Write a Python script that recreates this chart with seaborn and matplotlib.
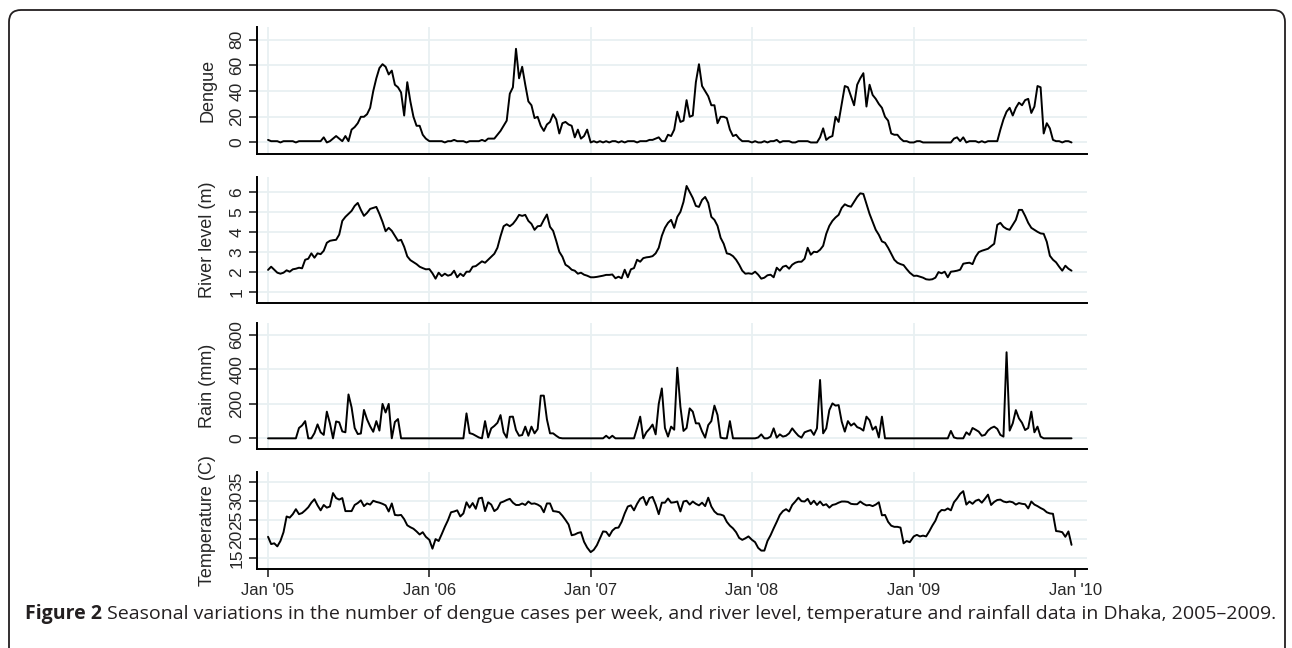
import numpy as np
import pandas as pd
import matplotlib
matplotlib.use("Agg")
import matplotlib.pyplot as plt
import seaborn as sns
from matplotlib.patches import FancyBboxPatch
from matplotlib.transforms import IdentityTransform

# weekly values, one list of 52 weeks per year
years = [2005, 2006, 2007, 2008, 2009]

dengue = {
    2005: [2, 1, 1, 1, 0, 1, 1, 1, 1, 0, 1, 1, 1, 1, 1, 1, 1, 1, 4, 0, 1, 3, 5, 3, 1, 5,
           1, 10, 12, 15, 20, 20, 22, 27, 40, 50, 58, 61, 59, 53, 56, 45, 43, 39, 21, 47,
           32, 20, 13, 13, 6, 3],
    2006: [1, 1, 1, 1, 1, 0, 1, 1, 2, 1, 1, 1, 0, 1, 1, 1, 1, 2, 1, 3, 3, 3, 6, 9, 13, 17,
           38, 43, 73, 50, 59, 45, 32, 29, 19, 20, 13, 9, 14, 16, 22, 18, 7, 15, 16, 14,
           13, 4, 10, 3, 5, 10],
    2007: [0, 1, 0, 1, 0, 1, 0, 1, 1, 0, 1, 0, 1, 1, 1, 0, 1, 1, 1, 2, 2, 3, 4, 1, 1, 6,
           5, 10, 24, 16, 17, 33, 20, 21, 47, 61, 44, 40, 36, 29, 29, 15, 20, 20, 19, 10,
           5, 6, 3, 1, 1, 1],
    2008: [0, 1, 0, 0, 1, 0, 1, 1, 2, 0, 1, 1, 1, 0, 0, 1, 1, 1, 1, 0, 0, 0, 4, 11, 2, 4,
           5, 20, 16, 30, 44, 43, 36, 29, 45, 50, 54, 28, 45, 37, 34, 30, 27, 20, 17, 7,
           6, 6, 3, 1, 1, 0],
    2009: [0, 1, 1, 0, 0, 0, 0, 0, 0, 0, 0, 0, 0, 3, 4, 1, 4, 0, 1, 1, 1, 0, 1, 0, 1, 1,
           1, 1, 10, 18, 24, 27, 21, 27, 31, 29, 33, 34, 23, 28, 44, 43, 7, 15, 11, 2,
           1, 1, 0, 1, 1, 0],
}

river = {
    2005: [2.09, 2.25, 2.1, 1.95, 1.9, 1.95, 2.07, 2.0, 2.12, 2.15, 2.2, 2.17, 2.6, 2.65,
           2.92, 2.7, 2.92, 2.88, 3.05, 3.45, 3.55, 3.58, 3.6, 3.86, 4.55, 4.75, 4.9,
           5.05, 5.3, 5.45, 5.1, 4.8, 4.95, 5.15, 5.2, 5.25, 4.9, 4.5, 4.03, 4.2, 4.05,
           3.8, 3.55, 3.6, 3.25, 2.77, 2.58, 2.48, 2.38, 2.25, 2.18, 2.12],
    2006: [2.13, 1.92, 1.65, 1.95, 1.78, 1.9, 1.8, 1.85, 2.05, 1.72, 1.9, 1.78, 2.0, 2.0,
           2.25, 2.28, 2.4, 2.52, 2.45, 2.6, 2.75, 2.9, 3.2, 3.78, 4.28, 4.38, 4.28, 4.4,
           4.6, 4.85, 4.8, 4.85, 4.55, 4.4, 4.1, 4.28, 4.3, 4.6, 4.87, 4.25, 4.05, 3.55,
           3.0, 2.75, 2.35, 2.25, 2.1, 2.05, 1.9, 1.95, 1.85, 1.8],
    2007: [1.72, 1.72, 1.74, 1.77, 1.8, 1.84, 1.84, 1.86, 1.67, 1.75, 1.67, 2.1, 1.72,
           2.12, 2.18, 2.6, 2.5, 2.68, 2.72, 2.74, 2.78, 2.92, 3.2, 3.8, 4.2, 4.45, 4.6,
           4.2, 4.75, 5.0, 5.5, 6.3, 6.0, 5.7, 5.3, 5.25, 5.6, 5.75, 5.45, 4.75, 4.6, 4.3,
           3.7, 3.4, 2.92, 2.88, 2.78, 2.6, 2.35, 2.05, 1.9, 1.92],
    2008: [1.89, 2.0, 1.85, 1.65, 1.7, 1.82, 1.85, 1.72, 2.2, 2.05, 2.25, 2.3, 2.15, 2.35,
           2.45, 2.5, 2.5, 2.65, 3.2, 2.85, 3.0, 2.98, 3.1, 3.3, 3.9, 4.3, 4.55, 4.72,
           4.85, 5.2, 5.38, 5.3, 5.26, 5.5, 5.75, 5.93, 5.9, 5.4, 4.9, 4.5, 4.1, 3.85,
           3.52, 3.45, 3.2, 2.9, 2.6, 2.45, 2.38, 2.33, 2.13, 1.95],
    2009: [1.79, 1.8, 1.75, 1.7, 1.62, 1.6, 1.62, 1.7, 1.98, 1.92, 2.0, 1.72, 2.0, 2.02,
           2.05, 2.1, 2.4, 2.43, 2.45, 2.38, 2.75, 2.98, 3.05, 3.1, 3.15, 3.28, 3.4, 4.35,
           4.45, 4.25, 4.15, 4.1, 4.35, 4.6, 5.1, 5.1, 4.8, 4.45, 4.2, 4.1, 4.0, 3.92,
           3.9, 3.5, 2.8, 2.6, 2.47, 2.25, 2.05, 2.3, 2.15, 2.05],
}

rain = {
    2005: [0, 0, 0, 0, 0, 0, 0, 0, 0, 0, 60, 75, 100, 0, 0, 30, 81, 35, 20, 155, 87, 0,
           98, 93, 40, 35, 255, 180, 60, 25, 28, 165, 110, 70, 38, 100, 45, 200, 150,
           200, 0, 95, 112, 0, 0, 0, 0, 0, 0, 0, 0, 0],
    2006: [0, 0, 0, 0, 0, 0, 0, 0, 0, 0, 0, 0, 145, 30, 25, 15, 5, 0, 100, 5, 58, 72, 90,
           135, 35, 4, 125, 126, 48, 15, 19, 68, 15, 68, 29, 54, 248, 248, 110, 29, 29,
           15, 3, 0, 0, 0, 0, 0, 0, 0, 0, 0],
    2007: [0, 0, 0, 0, 0, 15, 0, 15, 0, 0, 0, 0, 0, 0, 0, 60, 126, 0, 35, 55, 80, 23,
           200, 290, 60, 10, 68, 50, 410, 184, 43, 60, 174, 155, 87, 87, 40, 4, 77, 100,
           190, 135, 4, 0, 0, 100, 0, 0, 0, 0, 0, 0],
    2008: [0, 0, 5, 23, 0, 0, 10, 58, 4, 23, 10, 15, 29, 58, 35, 15, 4, 35, 42, 48, 20,
           58, 339, 29, 58, 164, 203, 190, 193, 97, 39, 100, 74, 87, 65, 58, 45, 126,
           105, 50, 68, 5, 126, 0, 0, 0, 0, 0, 0, 0, 0, 0],
    2009: [0, 0, 0, 0, 0, 0, 0, 0, 0, 0, 0, 0, 43, 5, 0, 0, 0, 35, 20, 60, 50, 39, 15,
           20, 45, 60, 68, 55, 20, 10, 500, 45, 87, 164, 116, 90, 48, 60, 155, 35, 68,
           10, 0, 0, 0, 0, 0, 0, 0, 0, 0, 0],
}

temperature = {
    2005: [20.6, 18.7, 18.9, 18.1, 19.5, 21.8, 25.9, 25.6, 26.5, 27.8, 26.5, 26.8, 27.5,
           28.3, 29.5, 30.4, 28.8, 27.5, 28.9, 28.2, 28.5, 32.0, 30.7, 30.3, 30.7, 27.3,
           27.3, 27.3, 28.9, 29.4, 30.1, 28.6, 29.3, 29.0, 30.0, 29.7, 29.5, 29.2, 28.8,
           27.2, 29.3, 26.3, 26.2, 26.3, 25.2, 23.6, 23.1, 22.7, 22.0, 21.2, 21.8, 20.6],
    2006: [19.8, 17.5, 20.0, 19.5, 21.3, 23.2, 24.9, 27.0, 27.2, 27.5, 25.9, 26.7, 29.6,
           28.2, 29.4, 27.9, 30.6, 30.8, 27.3, 29.6, 29.0, 27.3, 27.9, 29.5, 29.8, 30.2,
           30.5, 29.5, 28.9, 28.9, 29.3, 28.9, 29.8, 29.2, 29.3, 29.0, 28.5, 27.0, 29.3,
           29.3, 27.3, 27.2, 27.0, 26.1, 25.0, 23.8, 21.0, 21.2, 21.6, 21.8, 19.3, 17.8],
    2007: [16.6, 17.2, 18.4, 20.2, 22.0, 21.9, 20.8, 22.2, 22.9, 23.0, 24.5, 26.7, 28.5,
           28.8, 27.5, 29.2, 30.5, 31.0, 28.9, 30.7, 31.0, 29.0, 26.5, 29.5, 29.5, 30.6,
           29.5, 29.6, 29.8, 27.2, 29.8, 30.0, 29.0, 29.8, 29.2, 28.8, 29.5, 28.6, 30.8,
           28.5, 27.2, 26.5, 26.4, 26.1, 24.5, 23.5, 22.8, 21.8, 20.3, 19.8, 20.2, 20.7],
    2008: [19.8, 19.2, 17.7, 17.0, 17.0, 19.5, 21.0, 22.8, 24.5, 26.3, 27.3, 27.8, 27.2,
           28.9, 29.8, 30.8, 29.9, 29.8, 30.5, 29.1, 30.0, 28.9, 29.8, 28.8, 29.1, 28.2,
           28.9, 29.1, 29.5, 29.8, 29.8, 29.7, 29.2, 29.1, 29.1, 29.8, 29.2, 28.8, 28.9,
           28.6, 29.0, 29.6, 26.2, 26.3, 24.5, 23.5, 23.2, 23.2, 23.0, 18.9, 19.5, 19.2],
    2009: [20.7, 21.1, 20.7, 20.9, 20.7, 22.0, 23.5, 24.8, 26.8, 27.6, 27.5, 28.0, 27.5,
           29.6, 30.6, 31.8, 32.5, 29.0, 29.8, 29.2, 30.0, 30.3, 29.5, 30.5, 31.6, 28.9,
           29.7, 30.2, 30.3, 29.8, 29.6, 29.8, 29.6, 29.0, 29.4, 29.2, 29.1, 28.0, 29.8,
           29.0, 28.6, 28.1, 27.7, 27.0, 26.7, 26.6, 22.1, 22.0, 21.8, 20.6, 22.0, 18.5],
}

panel_labels = ["Dengue", "River level (m)", "Rain (mm)", "Temperature (C)"]
panel_yticks = [[0, 20, 40, 60, 80], [1, 2, 3, 4, 5, 6], [0, 200, 400, 600],
                [15, 20, 25, 30, 35]]
xtick_dates = ["2005-01-01", "2006-01-01", "2007-01-01", "2008-01-01",
               "2009-01-01", "2010-01-01"]
xtick_labels = ["Jan '05", "Jan '06", "Jan '07", "Jan '08", "Jan '09", "Jan '10"]
caption_bold = "Figure 2"
caption_text = (" Seasonal variations in the number of dengue cases per week, and river "
                "level, temperature and rainfall data in Dhaka, 2005\u20132009.")


def to_frame(series):
    rows = []
    for y in years:
        start = pd.Timestamp(f"{y}-01-01")
        for k, v in enumerate(series[y]):
            rows.append((start + pd.Timedelta(days=7 * k), v))
    return pd.DataFrame(rows, columns=["date", "value"])


sns.set_style("white")
plt.rcParams["font.family"] = ["Liberation Sans", "DejaVu Sans"]

fig = plt.figure(figsize=(12.92, 6.48), dpi=100)

W, H = 1292, 648
left, right = 257, 1087
# (top, bottom) pixel rows of each panel, and y limits
panel_rows = [(27, 154), (177, 303), (323, 449), (472, 569)]
panel_ylims = [(-9, 90), (0.43, 6.75), (-62, 670), (12.2, 37.5)]
series_list = [dengue, river, rain, temperature]

grid_col = "#e8f0f2"
xmin, xmax = pd.Timestamp("2004-12-07"), pd.Timestamp("2010-01-28")

axes = []
for i, (series, label) in enumerate(zip(series_list, panel_labels)):
    top, bot = panel_rows[i]
    ax = fig.add_axes([left / W, 1 - bot / H, (right - left) / W, (bot - top) / H])
    df = to_frame(series)
    for yr in xtick_dates[:-1]:
        ax.axvline(pd.Timestamp(yr), color=grid_col, lw=1.3, zorder=0)
    ax.set_yticks(panel_yticks[i])
    ax.yaxis.grid(True, color=grid_col, lw=1.3, zorder=0)
    ax.set_axisbelow(True)
    sns.lineplot(data=df, x="date", y="value", ax=ax, color="black", lw=1.4)
    ax.set_xlim(xmin, xmax)
    ax.set_ylim(*panel_ylims[i])
    for s in ["top", "right"]:
        ax.spines[s].set_visible(False)
    for s in ["left", "bottom"]:
        ax.spines[s].set_linewidth(1.4)
        ax.spines[s].set_color("black")
    ax.set_ylabel(label, fontsize=13)
    ax.yaxis.set_label_coords(-0.049, 0.5)
    ax.tick_params(axis="y", length=6, width=1.2, direction="out", labelsize=12.5,
                   left=True, pad=3)
    for t in ax.get_yticklabels():
        t.set_rotation(90)
        t.set_va("center")
    ax.set_xticks([pd.Timestamp(d) for d in xtick_dates])
    if i < 3:
        ax.tick_params(axis="x", bottom=False, labelbottom=False)
        ax.set_xlabel("")
    else:
        ax.set_xticklabels(xtick_labels)
        ax.tick_params(axis="x", length=6, width=1.2, direction="out", labelsize=12,
                       bottom=True, pad=4)
        ax.set_xlabel("")
    axes.append(ax)

# caption
cap_y = 1 - 614 / H
t1 = fig.text(25 / W, cap_y, caption_bold, fontsize=14.0, fontweight="bold",
              family=["Open Sans", "DejaVu Sans"], color="#231f20", va="center")
fig.canvas.draw()
bb = t1.get_window_extent()
fig.text(bb.x1 / W, cap_y, caption_text, fontsize=14.0,
         family=["Open Sans", "DejaVu Sans"], color="#231f20", va="center")

# rounded frame around the figure
frame = FancyBboxPatch((9, -30), 1276, H - 10 + 30, boxstyle="round,pad=0,rounding_size=12",
                       transform=IdentityTransform(), fill=False, edgecolor="#231f20",
                       lw=1.3, figure=fig)
fig.patches.append(frame)

fig.savefig("out.png", dpi=100)
